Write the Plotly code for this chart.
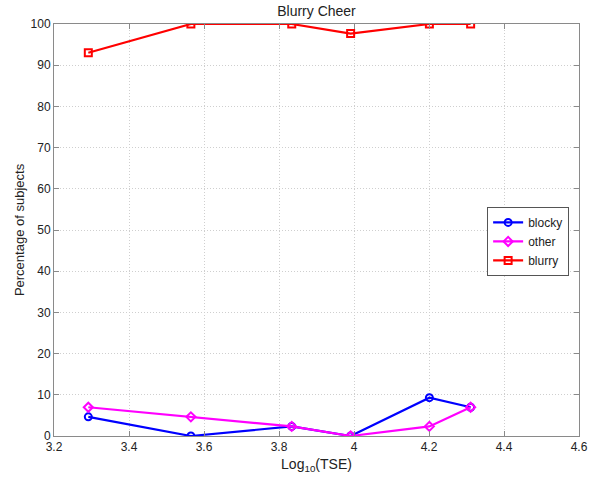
import plotly.graph_objects as go

log_tse = [3.2915, 3.565, 3.834, 3.991, 4.201, 4.311]
blocky = [4.65, 0.0, 2.33, 0.0, 9.30, 6.98]
other = [6.98, 4.65, 2.33, 0.0, 2.33, 6.98]
blurry = [93.02, 100.0, 100.0, 97.67, 100.0, 100.0]

series = [
    ("blocky", blocky, "#0000ff", "circle-open"),
    ("other", other, "#ff00ff", "diamond-open"),
    ("blurry", blurry, "#ff0000", "square-open"),
]

fig = go.Figure()
for name, vals, color, sym in series:
    fig.add_trace(go.Scatter(
        x=log_tse, y=vals, name=name, mode="lines+markers",
        line=dict(color=color, width=2.2),
        marker=dict(symbol=sym, size=7, color=color, line=dict(color=color, width=2)),
    ))

font = "Liberation Sans, Arial, sans-serif"
axis_common = dict(
    showline=True, linecolor="#8a8a8a", linewidth=1, mirror="ticks",
    ticks="inside", ticklen=5, tickcolor="#8a8a8a",
    showgrid=True, gridcolor="#cfcfcf", griddash="1px,2px", gridwidth=1,
    zeroline=False, automargin=False,
    tickfont=dict(family=font, size=12, color="#222"),
)

fig.update_layout(
    width=592, height=479,
    margin=dict(l=54, r=13, t=24, b=43),
    paper_bgcolor="white", plot_bgcolor="white",
    title=dict(text="Blurry Cheer", x=0.5, xref="paper", xanchor="center",
               y=1 - 11 / 479, yref="container", yanchor="middle",
               font=dict(family=font, size=14, color="#222")),
    xaxis=dict(range=[3.2, 4.6], tickmode="linear", tick0=3.2, dtick=0.2,
               title=dict(text="Log<sub>10</sub>(TSE)", standoff=5,
                          font=dict(family=font, size=14, color="#222")),
               **axis_common),
    yaxis=dict(range=[0, 100], tickmode="linear", tick0=0, dtick=10,
               title=dict(text="Percentage of subjects", standoff=3,
                          font=dict(family=font, size=13, color="#222")),
               **axis_common),
    legend=dict(x=0.825, y=0.556, xanchor="left", yanchor="top",
                bgcolor="white", bordercolor="#555", borderwidth=1,
                font=dict(family=font, size=12, color="#222"),
                tracegroupgap=0, itemwidth=30),
    showlegend=True,
)

fig.write_html("out.html")
